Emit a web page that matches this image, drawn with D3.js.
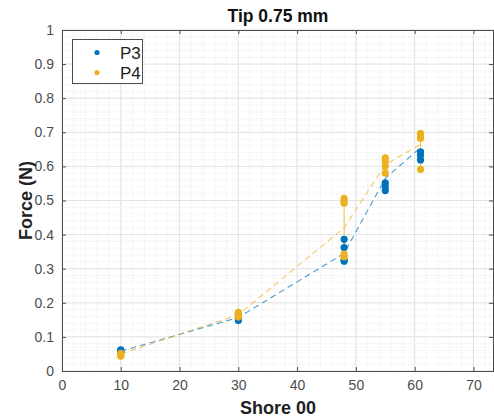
<!DOCTYPE html>
<html>
<head>
<meta charset="utf-8">
<script src="https://cdn.jsdelivr.net/npm/d3@7"></script>
<style>
  body { margin: 0; background: #fff; }
  text { font-family: Arial, "Liberation Sans", sans-serif; }
</style>
</head>
<body>
<div id="chart"></div>
<script>
// shore hardness of the samples
var shore = [10, 30, 48, 55, 61];

// individual force readings (N), one array per shore value
var p3Samples = [
  [0.062, 0.058, 0.055],
  [0.148, 0.155, 0.168],
  [0.386, 0.362, 0.326, 0.322],
  [0.552, 0.540, 0.529],
  [0.643, 0.633, 0.619]
];
var p4Samples = [
  [0.052, 0.047, 0.043],
  [0.158, 0.165, 0.172],
  [0.506, 0.498, 0.492, 0.343, 0.335],
  [0.625, 0.615, 0.600, 0.580],
  [0.697, 0.689, 0.682, 0.591]
];

// mean lines
var p3Mean = [0.058, 0.157, 0.345, 0.565, 0.655];
var p4Mean = [0.050, 0.165, 0.420, 0.605, 0.665];

var xTicks = [0, 10, 20, 30, 40, 50, 60, 70];
var yTicks = [0, 0.1, 0.2, 0.3, 0.4, 0.5, 0.6, 0.7, 0.8, 0.9, 1];

var series = [
  {name: "P3", color: "#0072BD", samples: p3Samples, mean: p3Mean},
  {name: "P4", color: "#EDB120", samples: p4Samples, mean: p4Mean}
];

var width = 494, height = 419;
var pLeft = 62, pTop = 30, pRight = 494, pBottom = 371;

var svg = d3.select("#chart")
  .append("svg")
  .attr("width", width)
  .attr("height", height);

var x = d3.scaleLinear().domain([0, 73.5]).range([pLeft, pRight]);
var y = d3.scaleLinear().domain([0, 1]).range([pBottom, pTop]);

// minor grid
var xMinor = d3.range(0, 74, 2), yMinor = d3.range(0, 1.001, 0.02);
svg.append("g").selectAll("line").data(xMinor).enter().append("line")
  .attr("x1", function(d) { return x(d); }).attr("x2", function(d) { return x(d); })
  .attr("y1", pTop).attr("y2", pBottom)
  .attr("stroke", "#ececec").attr("stroke-dasharray", "1,1");
svg.append("g").selectAll("line").data(yMinor).enter().append("line")
  .attr("y1", function(d) { return y(d); }).attr("y2", function(d) { return y(d); })
  .attr("x1", pLeft).attr("x2", pRight)
  .attr("stroke", "#ececec").attr("stroke-dasharray", "1,1");

// major grid
svg.append("g").selectAll("line").data(xTicks).enter().append("line")
  .attr("x1", function(d) { return x(d); }).attr("x2", function(d) { return x(d); })
  .attr("y1", pTop).attr("y2", pBottom)
  .attr("stroke", "#e3e3e3");
svg.append("g").selectAll("line").data(yTicks).enter().append("line")
  .attr("y1", function(d) { return y(d); }).attr("y2", function(d) { return y(d); })
  .attr("x1", pLeft).attr("x2", pRight)
  .attr("stroke", "#e3e3e3");

// axes (matlab style, ticks pointing in)
var xAxis = svg.append("g")
  .attr("transform", "translate(0," + pBottom + ")")
  .call(d3.axisBottom(x).tickValues(xTicks).tickSize(-4).tickPadding(9).tickFormat(d3.format("d")));
var yAxis = svg.append("g")
  .attr("transform", "translate(" + pLeft + ",0)")
  .call(d3.axisLeft(y).tickValues(yTicks).tickSize(-4).tickPadding(8).tickFormat(function(d) { return d === 0 || d === 1 ? d : d.toFixed(1); }));
var topAxis = svg.append("g")
  .attr("transform", "translate(0," + pTop + ")")
  .call(d3.axisTop(x).tickValues(xTicks).tickSize(-4).tickFormat(""));
var rightAxis = svg.append("g")
  .attr("transform", "translate(" + (pRight - 1) + ",0)")
  .call(d3.axisRight(y).tickValues(yTicks).tickSize(-4).tickFormat(""));

[xAxis, yAxis, topAxis, rightAxis].forEach(function(g) {
  g.select(".domain").attr("stroke", "#4d4d4d");
  g.selectAll(".tick line").attr("stroke", "#4d4d4d");
  g.selectAll(".tick text").attr("fill", "#4d4d4d").style("font-size", "14px");
});

// dashed mean lines
var line = d3.line()
  .x(function(d, i) { return x(shore[i]); })
  .y(function(d) { return y(d); });

series.forEach(function(s) {
  svg.append("path")
    .datum(s.mean)
    .attr("d", line)
    .attr("fill", "none")
    .attr("stroke", s.color)
    .attr("stroke-opacity", 0.7)
    .attr("stroke-width", 1.1)
    .attr("stroke-dasharray", "6,4");

  // error bars from min to max
  var g = svg.append("g");
  s.samples.forEach(function(vals, i) {
    var lo = d3.min(vals), hi = d3.max(vals), cx = x(shore[i]);
    g.append("line").attr("x1", cx).attr("x2", cx).attr("y1", y(lo)).attr("y2", y(hi))
      .attr("stroke", s.color).attr("stroke-opacity", 0.8);
    [lo, hi].forEach(function(v) {
      g.append("line").attr("x1", cx - 3).attr("x2", cx + 3).attr("y1", y(v)).attr("y2", y(v))
        .attr("stroke", s.color).attr("stroke-opacity", 0.8);
    });
  });
});

// sample points
series.forEach(function(s) {
  var pts = [];
  s.samples.forEach(function(vals, i) {
    vals.forEach(function(v) { pts.push({x: shore[i], y: v}); });
  });
  svg.append("g").selectAll("circle")
    .data(pts).enter().append("circle")
    .attr("cx", function(d) { return x(d.x); })
    .attr("cy", function(d) { return y(d.y); })
    .attr("r", 3.6)
    .attr("fill", s.color);
});

// title and labels
svg.append("text")
  .attr("x", (pLeft + pRight) / 2).attr("y", 22)
  .attr("text-anchor", "middle")
  .style("font-size", "17.5px").style("font-weight", "bold")
  .attr("fill", "#111")
  .text("Tip 0.75 mm");

svg.append("text")
  .attr("x", (pLeft + pRight) / 2).attr("y", 414)
  .attr("text-anchor", "middle")
  .style("font-size", "18px").style("font-weight", "bold")
  .attr("fill", "#222")
  .text("Shore 00");

svg.append("text")
  .attr("transform", "translate(32," + ((pTop + pBottom) / 2) + ") rotate(-90)")
  .attr("text-anchor", "middle")
  .style("font-size", "18px").style("font-weight", "bold")
  .attr("fill", "#222")
  .text("Force (N)");

// legend
var legend = svg.append("g");
legend.append("rect")
  .attr("x", 72.5).attr("y", 39.5).attr("width", 70).attr("height", 44)
  .attr("fill", "#fff").attr("stroke", "#4d4d4d");
series.forEach(function(s, i) {
  legend.append("circle")
    .attr("cx", 97).attr("cy", 52.5 + i * 20).attr("r", 2.6)
    .attr("fill", s.color);
  legend.append("text")
    .attr("x", 120).attr("y", 58.5 + i * 20)
    .style("font-size", "17px")
    .attr("fill", "#222")
    .text(s.name);
});
</script>
</body>
</html>
